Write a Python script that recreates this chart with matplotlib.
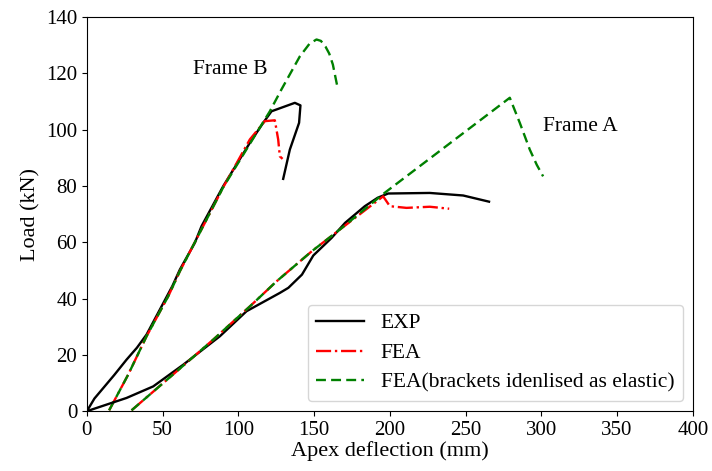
import numpy as np
import matplotlib
matplotlib.use("Agg")
import matplotlib.pyplot as plt

plt.rcParams["font.family"] = ["Liberation Serif", "DejaVu Serif"]
plt.rcParams["font.size"] = 15

# Frame B - experiment
expB_x = [0, 5, 10.8, 18, 26.2, 33, 39.4, 48.2, 56.5, 61.4, 71.3, 75.7, 90, 107.6, 116.4, 121.9, 137.3, 141, 140.1, 134, 129.6]
expB_y = [0, 4.5, 8.2, 12.8, 18.3, 22.5, 27.2, 36.1, 44.5, 50.3, 59.8, 65.7, 79.9, 95.3, 102.4, 106.5, 109.5, 108.6, 102.4, 92.9, 82.5]

# Frame B - FEA
feaB_x = [14.7, 27.3, 39.4, 53.7, 61.4, 90, 107.6, 117.5, 124.1, 126.3, 127.4, 129.2]
feaB_y = [0.3, 13, 26.6, 40.8, 49.7, 79.5, 96.5, 103, 103.3, 96.5, 90.5, 89.6]

# Frame B - FEA, brackets elastic
elB_x = [14.7, 27.3, 39.4, 53.7, 61.4, 90, 120.8, 128.5, 140.6, 147, 151.6, 154.5, 157.5, 160, 162.4, 165.2]
elB_y = [0.3, 13, 26.6, 40.8, 49.7, 79.5, 106.5, 114.3, 126, 130.5, 132, 131.5, 129.5, 127, 123.1, 115.7]

# Frame A - experiment
expA_x = [0, 26.2, 43.8, 63.6, 87.8, 105.4, 127.4, 133, 142, 149.5, 161.5, 170.5, 183.5, 192, 198.9, 226.4, 248.4, 265.5]
expA_y = [0, 4.7, 8.8, 16.5, 26.6, 35.5, 42, 43.8, 48.5, 55.3, 61.5, 66.9, 72.8, 75.8, 77.3, 77.5, 76.6, 74.4]

# Frame A - FEA
feaA_x = [29.5, 50.4, 83.4, 107.6, 125.2, 148.5, 167, 195.6, 200, 211, 226.4, 239.2]
feaA_y = [0.3, 10, 25.4, 37.2, 46.1, 56.8, 64.5, 76.3, 72.8, 72.2, 72.6, 71.9]

# Frame A - FEA, brackets elastic
elA_x = [29.5, 50.4, 83.4, 107.6, 125.2, 148.5, 167, 196.5, 279.2, 285.8, 292.4, 297, 301.2]
elA_y = [0.3, 10, 25.4, 37.2, 46.1, 56.8, 64.5, 77.5, 111.3, 102.4, 92.9, 87.5, 83.4]

fig = plt.figure(figsize=(7.12, 4.71), dpi=100)
ax = fig.add_axes([0.122, 0.127, 0.851, 0.837])

lw = 1.7
ax.plot(expB_x, expB_y, color="black", lw=lw, label="EXP")
ax.plot(feaB_x, feaB_y, color="red", lw=lw, ls="-.", label="FEA")
ax.plot(elB_x, elB_y, color="green", lw=lw, ls=(0, (4.2, 2.2)),
        label="FEA(brackets idenlised as elastic)")
ax.plot(expA_x, expA_y, color="black", lw=lw)
ax.plot(feaA_x, feaA_y, color="red", lw=lw, ls="-.")
ax.plot(elA_x, elA_y, color="green", lw=lw, ls=(0, (4.2, 2.2)))

ax.text(70, 121.5, "Frame B", fontsize=15.5, va="center")
ax.text(301, 101, "Frame A", fontsize=15.5, va="center")

ax.set_xlim(0, 400)
ax.set_ylim(0, 140)
ax.set_xticks(np.arange(0, 401, 50))
ax.set_yticks(np.arange(0, 141, 20))
ax.tick_params(labelsize=15)
ax.set_xlabel("Apex deflection (mm)", fontsize=16, labelpad=1)
ax.set_ylabel("Load (kN)", fontsize=16, labelpad=4)
ax.legend(loc="lower right", fontsize=15.5, handlelength=2.2, borderaxespad=0.45,
          labelspacing=0.45)

fig.savefig("out.png", dpi=100)
